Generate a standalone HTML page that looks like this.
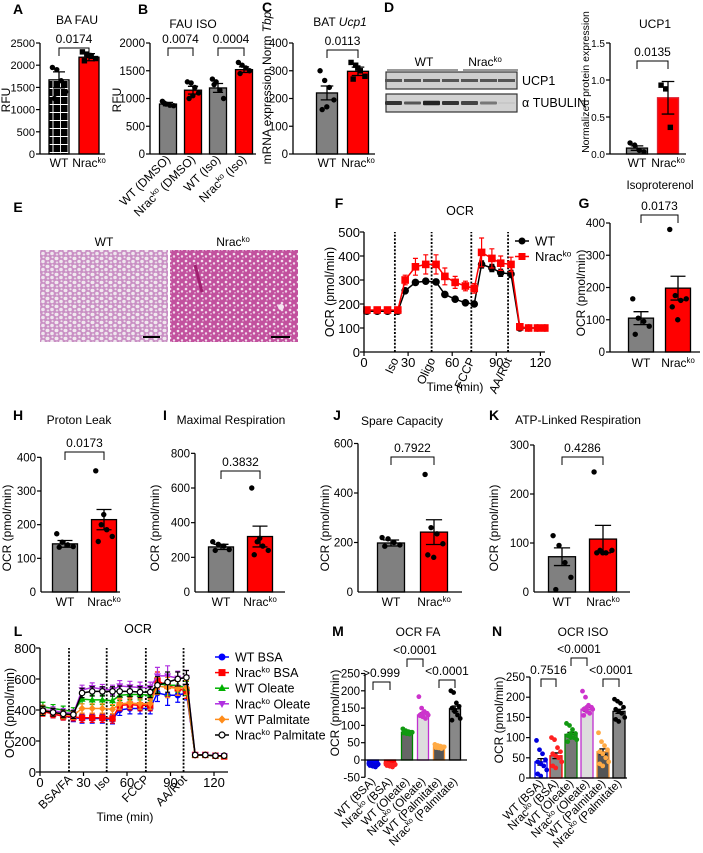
<!DOCTYPE html>
<html><head><meta charset="utf-8"><style>
html,body{margin:0;padding:0;background:#fff;}
svg{display:block;}
</style></head><body>
<svg id="fig" width="703" height="853" viewBox="0 0 703 853" font-family="'Liberation Sans', Arial, sans-serif">
<defs>
<pattern id="hatch" width="7.5" height="8" patternUnits="userSpaceOnUse"><rect width="7.5" height="8" fill="#000"/><path d="M0 0.5H7.5M0.5 0V8" stroke="#fff" stroke-width="0.9"/></pattern>
<pattern id="histWT" width="9" height="8" patternUnits="userSpaceOnUse"><rect width="9" height="8" fill="#c98fc4"/><ellipse cx="2.5" cy="2.5" rx="2" ry="1.7" fill="#f1e9ef"/><ellipse cx="7" cy="5.5" rx="1.8" ry="1.8" fill="#efe6ee"/><ellipse cx="3" cy="6.5" rx="1.3" ry="1" fill="#e9dde8"/><ellipse cx="7.5" cy="1.2" rx="1.1" ry="1" fill="#eee4ec"/></pattern>
<pattern id="histKO" width="8" height="7" patternUnits="userSpaceOnUse"><rect width="8" height="7" fill="#c2519e"/><circle cx="2" cy="2" r="1.3" fill="#f3dfee"/><circle cx="6" cy="4.5" r="1.2" fill="#f0d8ea"/><circle cx="3" cy="5.8" r="0.8" fill="#e7bfdc"/></pattern>
</defs>
</svg>
<script>
// ---------------- DATA ----------------
const A_cats=['WT','Nrac|^ko'];
const A_means=[1670,2180];
const A_sems=[180,80];
const A_wt=[1950,1900,1650,1400,1250];
const A_ko=[2300,2250,2200,2150,2100,2220];
const A_ticks=[0,500,1000,1500,2000,2500];

const B_cats=['WT (DMSO)','Nrac|^ko| (DMSO)','WT (Iso)','Nrac|^ko| (Iso)'];
const B_means=[900,1150,1190,1520];
const B_sems=[30,70,80,50];
const B_p1=[950,900,880,870,920];
const B_p2=[1300,1280,1200,1100,1000,1050];
const B_p3=[1350,1300,1150,1000,1250];
const B_p4=[1650,1600,1550,1500,1450];
const B_ticks=[0,500,1000,1500,2000];

const C_cats=['WT','Nrac|^ko'];
const C_means=[220,298];
const C_sems=[25,15];
const C_wt=[300,265,240,195,160,170];
const C_ko=[330,320,300,280,270,310];
const C_ticks=[0,100,200,300,400];

const D_cats=['WT','Nrac|^ko'];
const D_means=[0.08,0.76];
const D_sems=[0.03,0.22];
const D_wt=[0.15,0.12,0.05,0.03];
const D_ko=[0.93,0.88,0.36];
const D_ticks=[0,0.5,1.0,1.5];

const G_means=[105,198];
const G_sems=[20,37];
const G_wt=[165,105,95,80,55];
const G_ko=[380,175,160,165,140,100];
const G_ticks=[0,100,200,300,400];

const H_means=[143,215];
const H_sems=[10,30];
const H_wt=[173,148,140,135,133];
const H_ko=[360,200,185,165,150,230];
const H_ticks=[100,200,300,400];

const I_means=[260,320];
const I_sems=[15,60];
const I_wt=[290,275,265,245,240];
const I_ko=[600,290,265,240,215,310];
const I_ticks=[200,400,600,800];

const J_means=[198,242];
const J_sems=[12,50];
const J_wt=[220,215,200,190,185];
const J_ko=[475,260,235,195,150,140];
const J_ticks=[200,400,600];

const K_means=[72,108];
const K_sems=[18,28];
const K_wt=[115,95,60,30,5];
const K_ko=[245,85,80,85,80,80];
const K_ticks=[100,200,300];

const MN_cats=['WT (BSA)','Nrac|^ko| (BSA)','WT (Oleate)','Nrac|^ko| (Oleate)','WT (Palmitate)','Nrac|^ko| (Palmitate)'];
const M_means=[-15,-15,80,130,38,148];
const M_sems=[2,2,3,6,2,8];
const M_p1=[-10,-12,-14,-15,-16,-18,-20,-12,-15,-17];
const M_p2=[-10,-12,-14,-15,-16,-18,-20,-13,-15,-17];
const M_p3=[90,85,82,80,78,76,75,80,83,79];
const M_p4=[183,150,140,135,130,125,120,130,128,135];
const M_p5=[45,42,40,38,36,35,33,38,40,37];
const M_p6=[200,195,165,155,150,140,130,120,115,145];
const M_ticks=[-50,0,50,100,150,200,250];

const N_means=[40,55,108,170,65,165];
const N_sems=[8,7,5,5,7,5];
const N_p1=[93,70,60,45,40,35,30,20,10,5];
const N_p2=[100,95,75,65,60,55,50,40,30,25];
const N_p3=[135,130,120,110,105,100,100,95,90,110];
const N_p4=[215,200,180,175,170,165,160,170,155,175];
const N_p5=[112,90,80,70,65,60,50,40,35,30];
const N_p6=[195,190,185,175,170,165,160,150,145,140];
const N_ticks=[0,50,100,150,200,250];

const F_time=[2,9,16,23,28,35,42,49,55,62,69,75,80,87,93,100,106,112,118,123];
const F_wt=[170,170,170,170,255,290,295,292,240,220,205,200,365,350,330,325,100,100,100,100];
const F_ko=[175,175,175,175,300,355,365,365,315,290,275,265,415,390,370,365,105,100,100,100];
const F_wtErr=[10,10,10,10,8,8,8,10,8,6,6,8,15,15,15,15,5,5,5,5];
const F_koErr=[10,10,10,10,20,35,40,40,35,25,20,20,60,40,30,30,8,8,8,8];
const F_events=[21,46,73,98];
const F_eventLabels=['Iso','Oligo','FCCP','AA/Rot'];
const F_yticks=[0,100,200,300,400,500];
const F_xticks=[0,30,60,90,120];

const L_time=[2,9,16,23,29,36,43,50,55,62,69,76,81,88,95,101,107,114,121,127];
const L_wtBSA=[395,375,360,350,345,345,345,340,400,410,410,410,510,495,495,510,110,110,105,105];
const L_koBSA=[390,375,360,355,350,350,350,345,430,435,430,430,590,555,540,520,110,110,105,100];
const L_wtOle=[420,410,400,390,470,465,465,460,495,500,500,495,570,560,560,540,110,110,105,105];
const L_koOle=[400,395,385,375,530,545,535,530,555,550,545,545,620,620,605,610,110,110,105,105];
const L_wtPal=[400,385,370,365,410,410,410,405,440,445,440,440,555,545,540,545,110,110,105,105];
const L_koPal=[395,385,375,370,510,520,520,520,520,520,515,515,560,580,600,610,110,110,105,105];
const L_err=[30,25,25,25,30,30,30,30,35,35,35,35,55,65,45,45,10,10,10,10];
const L_events=[20,46,73,99];
const L_eventLabels=['BSA/FA','Iso','FCCP','AA/Rot'];
const L_yticks=[0,200,400,600,800];
const L_xticks=[0,30,60,90,120];
const L_names=['WT BSA','Nrac|^ko| BSA','WT Oleate','Nrac|^ko| Oleate','WT Palmitate','Nrac|^ko| Palmitate'];

// ---------------- HELPERS ----------------
const NS='http://www.w3.org/2000/svg';
const root=document.getElementById('fig');
function mk(tag,attrs,parent){const e=document.createElementNS(NS,tag);for(const k in attrs)e.setAttribute(k,attrs[k]);(parent||root).appendChild(e);return e;}
function grp(name,parent){const g=mk('g',{},parent);


return g;}
function txt(s,x,y,o,parent){o=o||{};const sz=o.size||11;
const t=mk('text',{x:x,y:y,'font-size':sz,'text-anchor':o.anchor||'middle',fill:o.fill||'#000'},parent);


if(o.bold)t.setAttribute('font-weight','bold');
if(o.rot!==undefined)t.setAttribute('transform','rotate('+o.rot+' '+x+' '+y+')');
let prevSup=false;
s.split('|').forEach(p=>{if(!p)return;const ts=mk('tspan',{},t);
 if(p[0]==='^'){ts.setAttribute('font-size',sz*0.65);ts.setAttribute('dy',-sz*0.35);p=p.slice(1);prevSup=true;}
 else{ if(prevSup){ts.setAttribute('dy',sz*0.35);prevSup=false;} if(p[0]==='*'){ts.setAttribute('font-style','italic');p=p.slice(1);} }
 ts.textContent=p;});
return t;}
function marker(type,x,y,r,color,parent){let e;
 if(type==='sq'){e=mk('rect',{x:x-r,y:y-r,width:2*r,height:2*r,fill:color},parent);}
 else if(type==='tri'){e=mk('path',{d:`M${x} ${y-r*1.2}L${x+r*1.1} ${y+r*0.8}L${x-r*1.1} ${y+r*0.8}Z`,fill:color},parent);}
 else if(type==='tridown'){e=mk('path',{d:`M${x} ${y+r*1.2}L${x+r*1.1} ${y-r*0.8}L${x-r*1.1} ${y-r*0.8}Z`,fill:color},parent);}
 else if(type==='dia'){e=mk('path',{d:`M${x} ${y-r*1.2}L${x+r*1.1} ${y}L${x} ${y+r*1.2}L${x-r*1.1} ${y}Z`,fill:color},parent);}
 else if(type==='open'){e=mk('circle',{cx:x,cy:y,r:r*0.85,fill:'#fff',stroke:color,'stroke-width':1.2},parent);}
 else{e=mk('circle',{cx:x,cy:y,r:r,fill:color},parent);}
 
 
 return e;}
function bracket(x1,x2,y,label,parent){
 const p=mk('path',{d:`M${x1} ${y+8}V${y}H${x2}V${y+8}`,fill:'none',stroke:'#000','stroke-width':1},parent);
 
 
 txt(label,(x1+x2)/2,y-5,{size:12,name:'p-value'},parent);}

function barChart(c,means,sems,pts){
 const g=grp(c.name);
 const Y=v=>c.y0-v*c.ppu;
 const t0=c.ticks[0]<0?c.ticks[0]:0, t1=c.ticks[c.ticks.length-1];
 means.forEach((m,i)=>{const cx=c.cx[i],bw=c.bw;
  const r=mk('rect',{x:cx-bw/2,y:Math.min(Y(m),c.y0),width:bw,height:Math.abs(Y(m)-c.y0),fill:c.fill[i],stroke:c.stroke[i],'stroke-width':1.3},g);
  
  
  const eb=mk('path',{d:`M${cx} ${Y(m-sems[i])}V${Y(m+sems[i])}M${cx-bw*0.3} ${Y(m+sems[i])}H${cx+bw*0.3}M${cx-bw*0.3} ${Y(m-sems[i])}H${cx+bw*0.3}`,stroke:c.ebc||'#000','stroke-width':1.3,fill:'none'},g);
  
  
  pts[i].forEach((v,j)=>{const off=((j%4)-1.5)*bw*(c.jit||0.22)+((j>=4)?bw*0.1:0);
   marker(c.mk[i],cx+off,Y(v),c.r||2.7,c.pc[i],g);});
 });
 const ax=mk('path',{d:`M${c.ax} ${Y(t0)}V${Y(t1)}`,stroke:'#000','stroke-width':1.3},g);
 
 
 const xa=mk('path',{d:`M${c.ax} ${c.y0}H${c.xEnd}`,stroke:'#000','stroke-width':1.3},g);
 
 
 c.ticks.forEach(t=>{const tk=mk('path',{d:`M${c.ax-4} ${Y(t)}H${c.ax}`,stroke:'#000','stroke-width':1.2},g);
  
  
  txt(c.dec?t.toFixed(c.dec):String(t),c.ax-5,Y(t)+4,{anchor:'end',size:c.ts||11.5,name:'y-tick-label'},g);});
 if(c.zeroTick){txt('0',c.ax-5,c.y0+4,{anchor:'end',size:c.ts||11.5,name:'y-tick-label'},g);}
 c.cats.forEach((s,i)=>{
  if(c.rot!==undefined) txt(s,c.cx[i]+3,c.ly,{anchor:'end',rot:c.rot,size:c.ls||11,name:'x-category-label'},g);
  else txt(s,c.cx[i],c.ly,{size:c.ls||12,name:'x-category-label'},g);});
 (c.br||[]).forEach(b=>bracket(c.cx[b[0]],c.cx[b[1]],b[3],b[2],g));
 if(c.title) txt(c.title,c.tx,c.ty,{size:c.tsz||12,name:'chart-title'},g);
 if(c.ytitle) txt(c.ytitle,c.ytx,c.yty,{size:c.ytsz||12,rot:-90,name:'y-axis-title'},g);
 if(c.letter) txt(c.letter[0],c.letter[1],c.letter[2],{size:14,bold:true,name:'panel-letter'},g);
}

function lineChart(c,time,series,errs){
 const g=grp(c.name);
 const Y=v=>c.y0-v*c.ppu, X=t=>c.ax+t*c.ppm;
 c.events.forEach((e,i)=>{const l=mk('line',{x1:X(e),x2:X(e),y1:c.y0,y2:Y(c.yticks[c.yticks.length-1]),stroke:'#000','stroke-width':1.8,'stroke-dasharray':'2,1.6'},g);
  
  
  txt(c.evl[i],X(e)+4,c.evy,{anchor:'end',rot:c.evrot,size:12,name:'injection-label'},g);});
 series.forEach((s,k)=>{const sg=grp('series-'+(k+1),g);
  let d='';s.forEach((v,i)=>{d+=(i?'L':'M')+X(time[i])+' '+Y(v);});
  const ln=mk('path',{d:d,fill:'none',stroke:c.colors[k],'stroke-width':1.5},sg);
  
  
  s.forEach((v,i)=>{const e=errs[k][i],x=X(time[i]);
   const eb=mk('path',{d:`M${x} ${Y(v-e)}V${Y(v+e)}M${x-2.5} ${Y(v+e)}H${x+2.5}M${x-2.5} ${Y(v-e)}H${x+2.5}`,stroke:c.colors[k],'stroke-width':1.2,fill:'none'},sg);
   
   
   marker(c.mk[k],x,Y(v),c.r||3.6,c.colors[k],sg);});
 });
 const ax=mk('path',{d:`M${c.ax} ${c.y0}V${Y(c.yticks[c.yticks.length-1])}M${c.ax} ${c.y0}H${c.xEnd}`,stroke:'#000','stroke-width':1.3,fill:'none'},g);
 
 
 c.yticks.forEach(t=>{const tk=mk('path',{d:`M${c.ax-4} ${Y(t)}H${c.ax}`,stroke:'#000','stroke-width':1.2},g);
  
  
  txt(String(t),c.ax-4,Y(t)+5,{anchor:'end',size:13,name:'y-tick-label'},g);});
 c.xticks.forEach(t=>{const tk=mk('path',{d:`M${X(t)} ${c.y0}V${c.y0+4}`,stroke:'#000','stroke-width':1.2},g);
  
  
  txt(String(t),X(t),c.y0+15,{size:13,name:'x-tick-label'},g);});
 txt('Time (min)',c.xtx,c.xty,{size:12,name:'x-axis-title'},g);
 txt('OCR (pmol/min)',c.ytx,c.yty,{size:12.5,rot:-90,name:'y-axis-title'},g);
 txt('OCR',c.tx,c.ty,{size:12.5,name:'chart-title'},g);
 txt(c.letter[0],c.letter[1],c.letter[2],{size:14,bold:true,name:'panel-letter'},g);
 const lg=grp('legend',g);
 c.legend.forEach((n,k)=>{const y=c.lgy+k*c.lgdy;
  const l=mk('line',{x1:c.lgx-7,x2:c.lgx+7,y1:y,y2:y,stroke:c.colors[k],'stroke-width':1.5},lg);
  
  
  marker(c.mk[k],c.lgx,y,3.5,c.colors[k],lg);
  txt(n,c.lgx+13,y+4.5,{anchor:'start',size:c.lgs||12.5,name:'legend-entry'},lg);});
}

// ---------------- ROW 1 ----------------
barChart({name:'panel-a',ax:40,y0:154,ppu:111/2500,ticks:A_ticks,ts:11,xEnd:105,cx:[59,89],bw:20,
 fill:['url(#hatch)','#ff0000'],stroke:['#000','#000'],mk:['c','sq'],pc:['#000','#000'],
 cats:A_cats,ly:167,br:[[0,1,'0.0174',48]],title:'BA FAU',tx:77,ty:24,ytitle:'RFU',ytx:10,yty:100,letter:['A',18,14]},
 A_means,A_sems,[A_wt,A_ko]);

barChart({name:'panel-b',ax:150,y0:154,ppu:111/2000,ticks:B_ticks,xEnd:256,cx:[168,193,218,244],bw:17,
 fill:['#808080','#ff0000','#808080','#ff0000'],stroke:['#000','#000','#000','#000'],mk:['c','c','c','c'],pc:['#000','#000','#000','#000'],
 cats:B_cats,ly:160,rot:-45,ls:12,br:[[0,1,'0.0074',48],[2,3,'0.0004',48]],title:'FAU  ISO',tx:193,ty:28,ytitle:'RFU',ytx:121,yty:100,letter:['B',143,14]},
 B_means,B_sems,[B_p1,B_p2,B_p3,B_p4]);

barChart({name:'panel-c',ax:293,y0:154,ppu:111/400,ticks:C_ticks,xEnd:375,cx:[327,358],bw:21,
 fill:['#808080','#ff0000'],stroke:['#000','#000'],mk:['c','sq'],pc:['#000','#000'],
 cats:C_cats,ly:167,br:[[0,1,'0.0113',50]],title:'BAT |*Ucp1',tx:340,ty:26,ytitle:'mRNA expression Norm |*Tbp',ytx:271,yty:88,letter:['C',267,12]},
 C_means,C_sems,[C_wt,C_ko]);

// Western blot
(function(){const g=grp('western-blot');
 txt('D',389,12,{size:14,bold:true,name:'panel-letter'},g);
 txt('WT',424,66,{size:12,name:'blot-group-label'},g);
 txt('Nrac|^ko',485,66,{size:12,name:'blot-group-label'},g);
 mk('path',{d:'M387 70H458M463 70H518',stroke:'#333','stroke-width':1},g);
 const b1=mk('rect',{x:386,y:72,width:131,height:17,fill:'#cfcfcf',stroke:'#333','stroke-width':1.2},g);
 
 const b2=mk('rect',{x:386,y:94,width:131,height:18,fill:'#d2d2d2',stroke:'#333','stroke-width':1.2},g);
 
 const ux=[393,412,431,450,469,488,506], tu=[['#333',4],['#555',3],['#222',4.5],['#333',4],['#444',4],['#777',3],['#c8c8c8',2]];
 ux.forEach((x,i)=>{mk('rect',{x:x-8,y:79,width:17,height:3,fill:'#555'},g);
  mk('rect',{x:x-8,y:103-tu[i][1]/2,width:17,height:tu[i][1],fill:tu[i][0],rx:1},g);});
 txt('UCP1',522,85,{anchor:'start',size:12.5,name:'ucp1-label'},g);
 txt('α TUBULIN',522,107,{anchor:'start',size:12.5,name:'tubulin-label'},g);
})();

barChart({name:'panel-d-quant',ax:610,y0:154,ppu:111/1.5,ticks:D_ticks,ts:10,dec:1,xEnd:686,cx:[637,668],bw:21,
 fill:['#808080','#ff0000'],stroke:['#000','#d23'],mk:['c','sq'],pc:['#000','#000'],
 cats:D_cats,ly:167,br:[[0,1,'0.0135',61]],title:'UCP1',tx:655,ty:28,ytitle:'Normalized protein expression',ytx:589,yty:82,ytsz:10.5},
 D_means,D_sems,[D_wt,D_ko]);

// ---------------- ROW 2 ----------------
(function(){const g=grp('panel-e-histology');
 txt('E',18,212,{size:14,bold:true,name:'panel-letter'},g);
 txt('WT',104,246,{size:12,name:'image-label'},g);
 txt('Nrac|^ko',233,246,{size:12,name:'image-label'},g);
 const i1=mk('rect',{x:40,y:250,width:128,height:92,fill:'url(#histWT)'},g);
 
 const i2=mk('rect',{x:170,y:250,width:128,height:92,fill:'url(#histKO)'},g);
 
 mk('path',{d:'M195 265L202 292',stroke:'#a02070','stroke-width':3},g);
 mk('circle',{cx:281,cy:307,r:3,fill:'#f5e5f0'},g);
 mk('path',{d:'M143 337H160M271 337H290',stroke:'#000','stroke-width':2},g);
})();

lineChart({name:'panel-f',ax:364,y0:352,ppu:120/500,ppm:1.47,xEnd:545,events:F_events,evl:F_eventLabels,evy:360,evrot:-65,
 yticks:F_yticks,xticks:F_xticks,colors:['#000','#ff0000'],mk:['c','sq'],r:3.8,
 xtx:455,xty:391,ytx:334,yty:292,tx:460,ty:215,letter:['F',339,208],legend:['WT','Nrac|^ko'],lgx:522,lgy:241,lgdy:15.5,lgs:13},
 F_time,[F_wt,F_ko],[F_wtErr,F_koErr]);

barChart({name:'panel-g',ax:610,y0:352,ppu:129/400,ticks:G_ticks,xEnd:700,cx:[641,678],bw:25,
 fill:['#808080','#ff0000'],stroke:['#000','#000'],mk:['c','c'],pc:['#000','#000'],
 cats:['WT','Nrac|^ko'],ly:367,br:[[0,1,'0.0173',215]],title:'Isoproterenol',tx:660,ty:189,tsz:11.5,ytitle:'OCR (pmol/min)',ytx:585,yty:293,letter:['G',584,208]},
 G_means,G_sems,[G_wt,G_ko]);

// ---------------- ROW 3 ----------------
barChart({name:'panel-h',ax:41,y0:592,ppu:101/300,ticks:H_ticks,zeroTick:true,xEnd:120,cx:[65,104],bw:25,
 fill:['#808080','#ff0000'],stroke:['#000','#000'],mk:['c','c'],pc:['#000','#000'],
 cats:['WT','Nrac|^ko'],ly:606,br:[[0,1,'0.0173',452]],title:'Proton Leak',tx:79,ty:424,ytitle:'OCR (pmol/min)',ytx:11,yty:528,letter:['H',18,420]},
 H_means,H_sems,[H_wt,H_ko]);

barChart({name:'panel-i',ax:195,y0:592,ppu:104/600,ticks:I_ticks,zeroTick:true,xEnd:285,cx:[221,260],bw:25,
 fill:['#808080','#ff0000'],stroke:['#000','#000'],mk:['c','c'],pc:['#000','#000'],
 cats:['WT','Nrac|^ko'],ly:606,br:[[0,1,'0.3832',471]],title:'Maximal Respiration',tx:231,ty:424,ytitle:'OCR (pmol/min)',ytx:159,yty:528,letter:['I',165,420]},
 I_means,I_sems,[I_wt,I_ko]);

barChart({name:'panel-j',ax:358,y0:592,ppu:99/400,ticks:J_ticks,zeroTick:true,xEnd:462,cx:[391,434],bw:27,
 fill:['#808080','#ff0000'],stroke:['#000','#000'],mk:['c','c'],pc:['#000','#000'],
 cats:['WT','Nrac|^ko'],ly:606,br:[[0,1,'0.7922',457]],title:'Spare Capacity',tx:402,ty:425,ytitle:'OCR (pmol/min)',ytx:329,yty:528,letter:['J',337,420]},
 J_means,J_sems,[J_wt,J_ko]);

barChart({name:'panel-k',ax:534,y0:592,ppu:98/200,ticks:K_ticks,zeroTick:true,xEnd:630,cx:[562,603],bw:27,
 fill:['#808080','#ff0000'],stroke:['#000','#000'],mk:['c','c'],pc:['#000','#000'],
 cats:['WT','Nrac|^ko'],ly:606,br:[[0,1,'0.4286',457]],title:'ATP-Linked Respiration',tx:578,ty:424,ytitle:'OCR (pmol/min)',ytx:498,yty:528,letter:['K',494,420]},
 K_means,K_sems,[K_wt,K_ko]);

// ---------------- ROW 4 ----------------
lineChart({name:'panel-l',ax:40,y0:772,ppu:124/800,ppm:1.45,xEnd:228,events:L_events,evl:L_eventLabels,evy:780,evrot:-45,
 yticks:L_yticks,xticks:L_xticks,colors:['#0000ff','#ff0000','#00b000','#b030e0','#ff8c1a','#000'],mk:['c','sq','tri','tridown','dia','open'],r:3.2,
 xtx:125,xty:821,ytx:14,yty:713,tx:138,ty:633,letter:['L',18,636],legend:L_names,lgx:222,lgy:657,lgdy:15.6,lgs:12.5},
 L_time,[L_wtBSA,L_koBSA,L_wtOle,L_koOle,L_wtPal,L_koPal],[L_err,L_err,L_err,L_err,L_err,L_err]);

barChart({name:'panel-m',ax:365,y0:760,ppu:17.3/50,ticks:M_ticks,xEnd:467,cx:[373,390,407,423,439,455],bw:11,jit:0.25,r:2.4,
 fill:['#0000ff','#ff0000','#666','#ddd','#555','#888'],stroke:['#0000ff','#ff0000','#008000','#c030d0','#ff9933','#000'],mk:['c','c','c','c','c','c'],
 pc:['#0000dd','#ff2020','#119911','#cc33cc','#ffaa44','#000'],
 cats:MN_cats,ly:782,rot:-45,ls:11.5,br:[[0,1,'>0.999',682],[2,3,'<0.0001',659],[4,5,'<0.0001',680]],
 title:'OCR FA',tx:418,ty:636,ytitle:'OCR (pmol/min)',ytx:339,yty:713,letter:['M',338,636]},
 M_means,M_sems,[M_p1,M_p2,M_p3,M_p4,M_p5,M_p6]);

barChart({name:'panel-n',ax:530,y0:778,ppu:20.2/50,ticks:N_ticks,xEnd:627,cx:[541,556,571,587,603,619],bw:12,jit:0.25,r:2.4,
 fill:['#fff','#888','#777','#ddd','#555','#888'],stroke:['#0000ff','#ff0000','#008000','#c030d0','#ff9933','#000'],mk:['c','c','c','c','c','c'],
 pc:['#0000dd','#ff2020','#119911','#cc33cc','#ffaa44','#000'],
 cats:MN_cats,ly:784,rot:-45,ls:11.5,br:[[0,1,'0.7516',679],[2,3,'<0.0001',658],[4,5,'<0.0001',679]],
 title:'OCR ISO',tx:583,ty:636,ytitle:'OCR (pmol/min)',ytx:503,yty:720,letter:['N',497,636]},
 N_means,N_sems,[N_p1,N_p2,N_p3,N_p4,N_p5,N_p6]);
</script>
</body></html>
